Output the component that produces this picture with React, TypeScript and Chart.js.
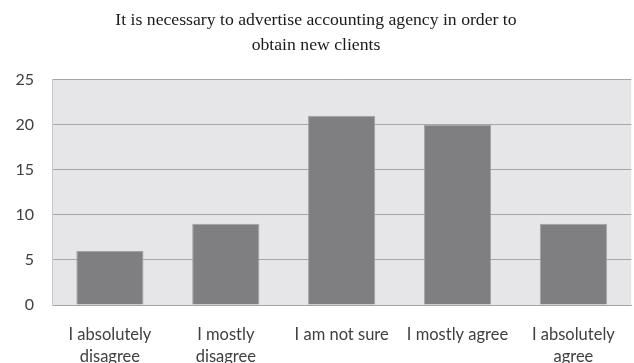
import React, { useEffect, useRef } from "react";
import { Chart, registerables } from "chart.js";

Chart.register(...registerables);

const titleLines = [
  "It is necessary to advertise accounting agency in order to",
  "obtain new clients",
];
const categories: (string | string[])[] = [
  ["I absolutely", "disagree"],
  ["I mostly", "disagree"],
  "I am not sure",
  "I mostly agree",
  ["I absolutely", "agree"],
];
const values = [6, 9, 21, 20, 9];
const yMin = 0;
const yMax = 25;
const yStep = 5;

const plotBg = {
  id: "plotBg",
  beforeDraw(chart: any) {
    const { ctx, chartArea } = chart;
    ctx.save();
    ctx.fillStyle = "#e6e6e8";
    ctx.fillRect(
      chartArea.left,
      chartArea.top,
      chartArea.right - chartArea.left,
      chartArea.bottom - chartArea.top
    );
    ctx.restore();
  },
};

export default function App() {
  const ref = useRef<HTMLCanvasElement>(null);
  useEffect(() => {
    document.body.style.margin = "0";
    const chart = new Chart(ref.current!, {
      type: "bar",
      data: {
        labels: categories,
        datasets: [
          {
            data: values,
            backgroundColor: "#7f7f81",
            borderColor: "#a3a3a5",
            borderWidth: 1,
            barPercentage: 0.58,
            categoryPercentage: 1,
          },
        ],
      },
      options: {
        animation: false,
        responsive: false,
        maintainAspectRatio: false,
        layout: { padding: { left: 0, right: 2, top: 0, bottom: 0 } },
        plugins: {
          legend: { display: false },
          tooltip: { enabled: false },
          title: {
            display: true,
            text: titleLines,
            color: "#1a1a1a",
            font: { family: "Liberation Serif", size: 17.7, weight: "normal", lineHeight: 1.4 },
            padding: { top: 8, bottom: 22 },
          },
        },
        scales: {
          x: {
            grid: { display: false, drawTicks: false },
            border: { display: true, color: "#a6a6a6", width: 1 },
            ticks: {
              color: "#404040",
              font: { family: "Lato", size: 16.5, lineHeight: 1.33 },
              padding: 19,
              maxRotation: 0,
              autoSkip: false,
            },
            afterFit(scale: any) {
              scale.height = 58;
            },
          },
          y: {
            min: yMin,
            max: yMax,
            grid: { color: "#a6a6a6", drawTicks: false, lineWidth: 1 },
            border: { display: true, color: "#c8c8c8", width: 1 },
            ticks: {
              stepSize: yStep,
              color: "#404040",
              font: { family: "Lato", size: 16 },
              padding: 18,
            },
            afterFit(scale: any) {
              scale.width = 52;
            },
          },
        },
      },
      plugins: [plotBg],
    });
    return () => chart.destroy();
  }, []);
  return (
    <div style={{ position: "fixed", left: 0, top: 0, width: 634, height: 363, background: "#fff" }}>
      <canvas ref={ref} width={634} height={363} style={{ display: "block" }} />
    </div>
  );
}
